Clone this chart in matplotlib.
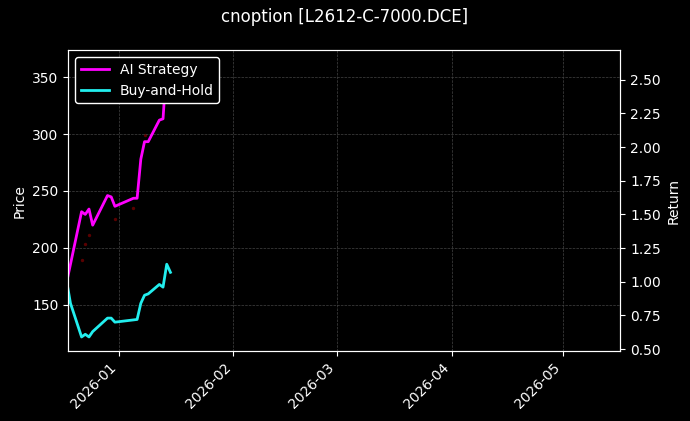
import matplotlib
matplotlib.use("Agg")
import matplotlib.pyplot as plt
import matplotlib.dates as mdates
import pandas as pd

strat_dates = ["2025-12-18","2025-12-22","2025-12-23","2025-12-24","2025-12-25","2025-12-29","2025-12-30",
               "2025-12-31","2026-01-05","2026-01-06","2026-01-07","2026-01-08","2026-01-09","2026-01-12",
               "2026-01-13","2026-01-14"]
strat_ret = [1.0,1.52,1.50,1.54,1.42,1.64,1.63,1.56,1.62,1.62,1.91,2.04,2.04,2.20,2.21,2.63]
bh_dates = ["2025-12-18","2025-12-19","2025-12-22","2025-12-23","2025-12-24","2025-12-25","2025-12-29",
            "2025-12-30","2025-12-31","2026-01-06","2026-01-07","2026-01-08","2026-01-09","2026-01-12",
            "2026-01-13","2026-01-14","2026-01-15"]
bh_ret = [1.0,0.84,0.59,0.61,0.59,0.63,0.73,0.73,0.70,0.72,0.84,0.90,0.91,0.98,0.96,1.13,1.07]
price_dates = ["2025-12-22","2025-12-23","2025-12-24","2025-12-31","2026-01-05","2026-01-08"]
price_vals = [189,203,211,225,235,299]

plt.style.use("dark_background")
fig, ax = plt.subplots(figsize=(6.9, 4.21), dpi=100)
fig.patch.set_facecolor("black"); ax.set_facecolor("black")
ax.scatter(pd.to_datetime(price_dates), price_vals, s=2, color="#5a0000", zorder=1)
ax.set_ylim(109, 374)
ax.set_ylabel("Price")
ax.grid(True, color="#444444", linestyle="--", linewidth=0.5)
ax2 = ax.twinx()
l1, = ax2.plot(pd.to_datetime(strat_dates), strat_ret, color="#ff00ff", lw=2, label="AI Strategy")
l2, = ax2.plot(pd.to_datetime(bh_dates), bh_ret, color="#22eeee", lw=2, label="Buy-and-Hold")
ax2.set_ylim(0.485, 2.72)
ax2.set_ylabel("Return")
ax.set_xlim(pd.Timestamp("2025-12-18 10:00"), pd.Timestamp("2026-05-16 12:00"))
ax.xaxis.set_major_locator(mdates.MonthLocator())
ax.xaxis.set_major_formatter(mdates.DateFormatter("%Y-%m"))
plt.setp(ax.get_xticklabels(), rotation=45, ha="right")
leg = ax2.legend(handles=[l1, l2], loc="upper left", facecolor="black", edgecolor="white", framealpha=1)
fig.suptitle("cnoption [L2612-C-7000.DCE]", color="white")
fig.subplots_adjust(left=0.099, right=0.899, top=0.881, bottom=0.166)
fig.savefig("out.png", facecolor="black")
